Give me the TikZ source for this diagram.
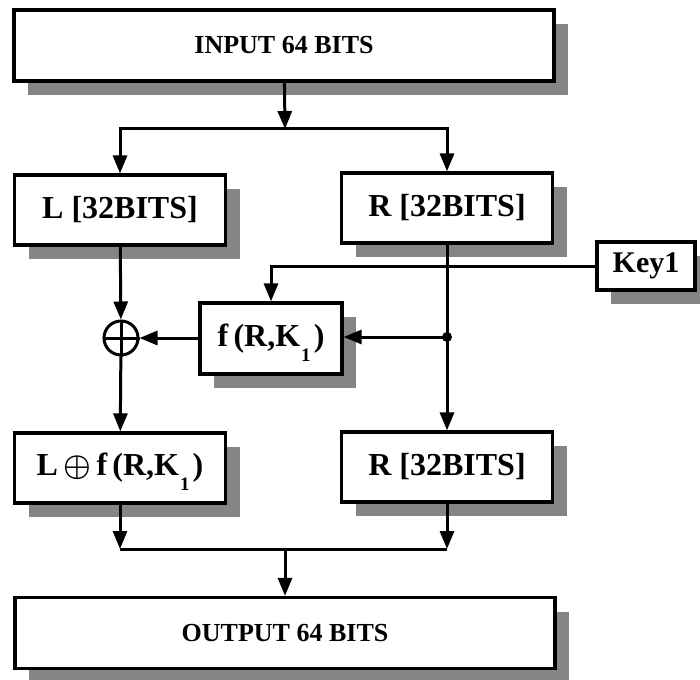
\documentclass[tikz,border=0pt]{standalone}
\usepackage{amsmath}
\usepackage{amssymb}
\usepackage{fontspec}
\setmainfont{Liberation Serif}
\usetikzlibrary{arrows.meta,shadows}
\tikzset{block/.style = {shape = rectangle, draw, fill = white, line width = 3.2pt, inner sep = 0pt, minimum width = 211pt, minimum height = 70pt, font = \bfseries\fontsize{32}{36}\selectfont, drop shadow = {shadow xshift = 14pt, shadow yshift = -14pt, fill = black!48, opacity = 1}}}
\tikzset{wide/.style = {minimum width = 540pt, minimum height = 71pt, font = \bfseries\fontsize{26}{28}\selectfont}}
\tikzset{edge/.style = {-{Triangle[length = 18pt, width = 14pt]}, line width = 3pt}}
\tikzset{wire/.style = {line width = 3pt}}
\newcommand{\keysub}{\kern1pt\smash{\raisebox{-15pt}{\fontsize{19}{19}\selectfont 1}}\kern3pt}

\begin{document}
\begin{tikzpicture}[x = 1pt, y = -1pt]
			\useasboundingbox (0, 0) rectangle (700, 679);
			\node[block, wide] (a) at (284, 45.5) {INPUT 64 BITS};
			\node[block] (b) at (120, 210) {L [32BITS]};
			\node[block] (c) at (447, 208) {R [32BITS]};
			\node[block, minimum width = 98pt, minimum height = 48pt, font = \bfseries\fontsize{30}{32}\selectfont] (d) at (646, 266) {Key1};
			\node[block, minimum width = 142pt, minimum height = 71pt] (e) at (271, 338.5) {f\,(R,K\keysub)};
			\node[circle, draw, line width = 3pt, minimum size = 34pt, inner sep = 0pt] (f) at (121, 338) {};
			\node[block] (g) at (120, 468) {L\,\scalebox{1.25}{$\boldsymbol{\oplus}$}\,f\,(R,K\keysub)};
			\node[block] (h) at (447, 467) {R [32BITS]};
			\node[block, wide] (i) at (285, 633) {OUTPUT 64 BITS};

			\coordinate (s) at (285, 129);
			\coordinate (m) at (285, 549);
			\coordinate (j) at (447, 337);

			\draw[wire] (f.north) -- (f.south) (f.west) -- (f.east);
			\draw[edge] (a) -- (s);
			\draw[edge] (s) -| (b);
			\draw[edge] (s) -| (c);
			\draw[edge] (b) -- (f);
			\draw[edge] (c) -- (h);
			\draw[edge] (d) -| (e);
			\fill (j) circle (5pt);
			\draw[edge] (j) -- (j -| e.east);
			\draw[edge] (e.west |- f) -- (f);
			\draw[edge] (f) -- (g);
			\draw[edge] (g) -- (g |- m);
			\draw[edge] (h) -- (h |- m);
			\draw[wire] (g |- m) -- (h |- m);
			\draw[edge] (m) -- (i);
		\end{tikzpicture}
\end{document}
